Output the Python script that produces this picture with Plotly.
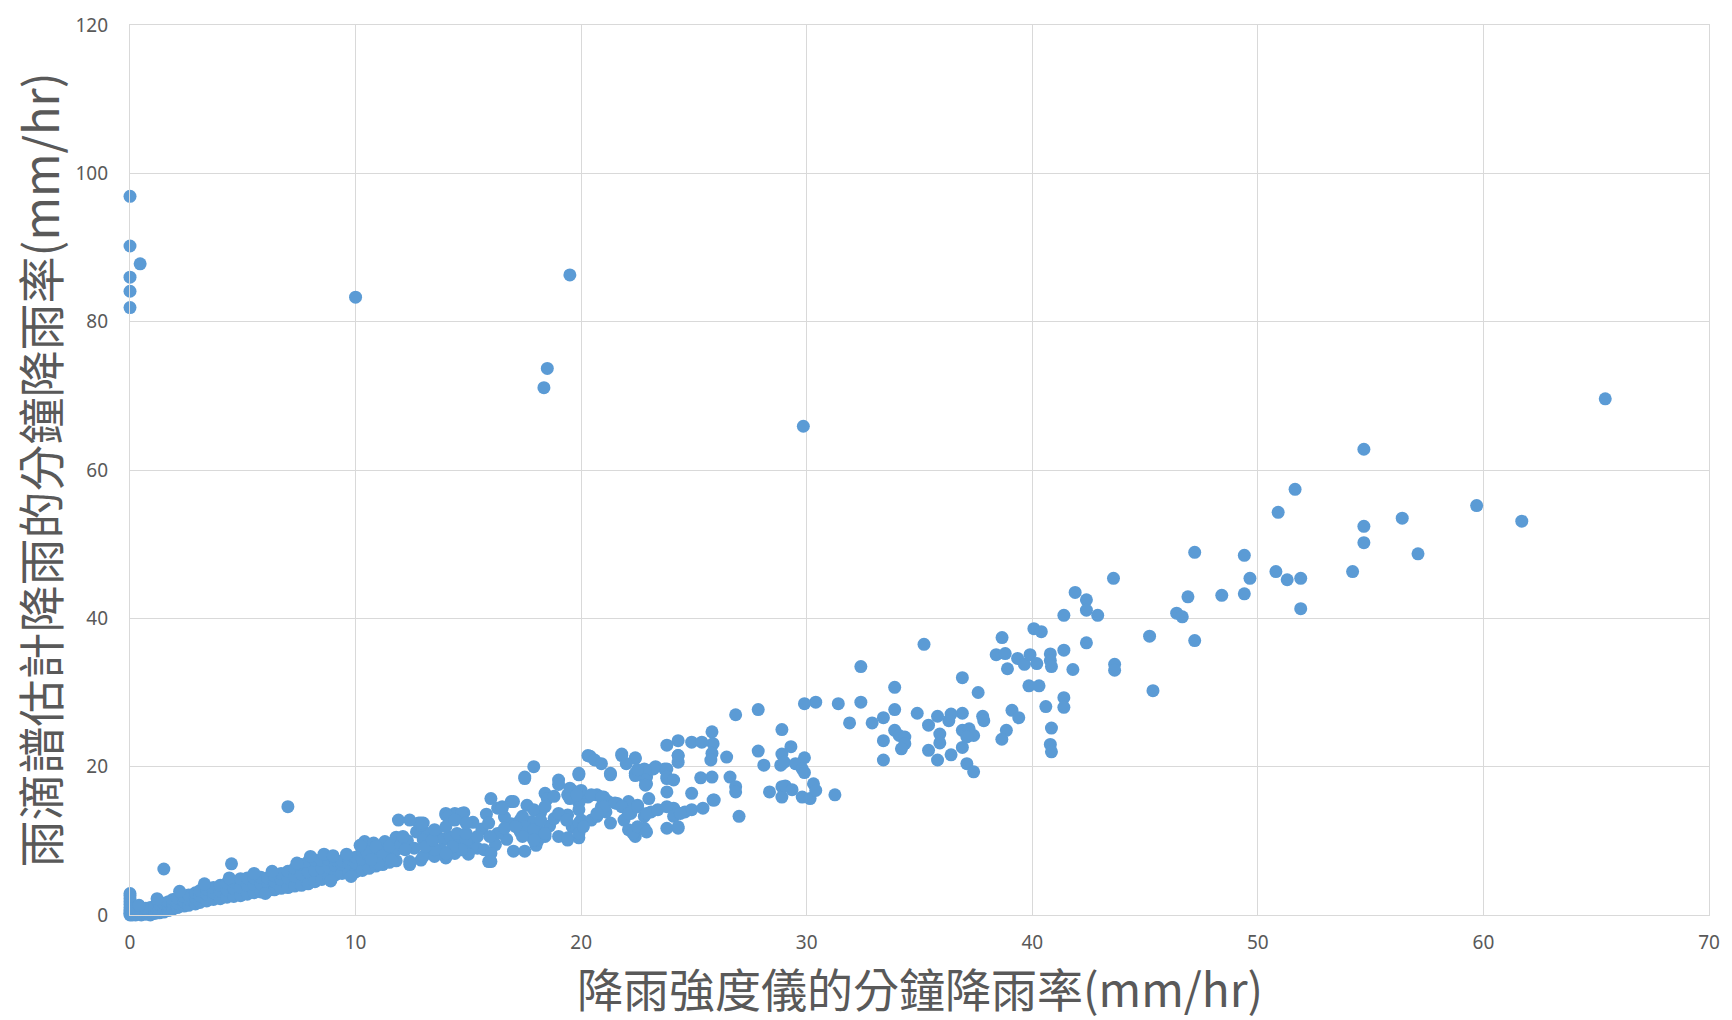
import plotly.graph_objects as go

# ---- data ----
x_ticks = [0, 10, 20, 30, 40, 50, 60, 70]
y_ticks = [0, 20, 40, 60, 80, 100, 120]

x_title = "降雨強度儀的分鐘降雨率(mm/hr)"
y_title = "雨滴譜估計降雨的分鐘降雨率(mm/hr)"

outliers = [
    (0, 96.9), (0, 90.2), (0, 86.0), (0, 84.1), (0, 81.9), (0.45, 87.8),
    (10.0, 83.3), (19.5, 86.3), (18.5, 73.7), (18.35, 71.1), (29.85, 65.9),
    (65.4, 69.6), (54.7, 62.8), (1.5, 6.2), (4.5, 6.9), (7.0, 14.6),
]

band_low = [
    (0, 0), (0, 0.2), (0, 0.4), (0, 0.7), (0, 1.0), (0, 1.4), (0, 1.8), (0, 2.2), (0, 2.6), (0, 2.9),
    (0.1, 0), (0.1, 0.3), (0.25, 0), (0.25, 0.5), (0.25, 0.9), (0.5, 0), (0.5, 0.2), (0.5, 0.6),
    (0.7, 0.1), (0.7, 0.5), (0.7, 0.9), (0.9, 0), (0.9, 0.4), (0.9, 1.0), (1.1, 0.2), (1.1, 0.6), (1.1, 1.2),
    (1.3, 0.3), (1.3, 0.8), (1.3, 1.4), (1.5, 0.4), (1.5, 1.0), (1.5, 1.6), (1.7, 0.6), (1.7, 1.3), (1.7, 1.8),
    (1.9, 0.8), (1.9, 1.5), (1.9, 2.1), (2.1, 1.0), (2.1, 1.6), (2.1, 2.3), (2.4, 1.2), (2.4, 1.8), (2.4, 2.5),
    (2.6, 1.3), (2.6, 2.1), (2.6, 2.7), (2.9, 1.5), (2.9, 2.3), (2.9, 3.0), (3.1, 1.7), (3.1, 2.6), (3.1, 3.3),
    (3.4, 1.9), (3.4, 2.8), (3.4, 3.5), (3.7, 2.1), (3.7, 3.0), (3.7, 3.7), (4.0, 2.2), (4.0, 3.2), (4.0, 4.0),
    (4.3, 2.4), (4.3, 3.4), (4.3, 4.3), (4.6, 2.5), (4.6, 3.6), (4.6, 4.5), (4.9, 2.6), (4.9, 3.8), (4.9, 4.9),
    (5.2, 2.8), (5.2, 4.0), (5.2, 5.0), (5.5, 3.0), (5.5, 4.1), (5.5, 5.0), (5.8, 3.1), (5.8, 4.2), (5.8, 5.1),
    (6.1, 3.3), (6.1, 4.3), (6.1, 5.0), (6.4, 3.4), (6.4, 4.5), (6.4, 5.3), (6.7, 3.6), (6.7, 4.8), (6.7, 5.6),
    (7.0, 3.7), (7.0, 5.0), (7.0, 5.9), (7.3, 3.9), (7.3, 5.2), (7.3, 6.3), (7.6, 4.0), (7.6, 5.5), (7.6, 6.8),
    (7.9, 4.2), (7.9, 5.8), (7.9, 7.2), (8.2, 4.5), (8.2, 6.0), (8.2, 7.4), (8.5, 4.8), (8.5, 6.3), (8.5, 7.4),
    (8.8, 5.1), (8.8, 6.5), (8.8, 7.5), (9.1, 5.4), (9.1, 6.7), (9.1, 7.4), (9.4, 5.6), (9.4, 6.8), (9.4, 7.3),
    (9.7, 5.7), (9.7, 7.0), (9.7, 7.6), (10.0, 5.8), (10.0, 7.0), (10.0, 7.8), (10.3, 6.0), (10.3, 7.5), (10.3, 8.6),
    (10.6, 6.3), (10.6, 7.8), (10.6, 9.3), (10.9, 6.6), (10.9, 8.0), (10.9, 9.0), (11.2, 6.8), (11.2, 8.3), (11.2, 9.4),
    (11.5, 7.1), (11.5, 8.5), (11.5, 9.6), (11.8, 7.3), (11.8, 8.8), (11.8, 10.2),
    (10.4, 9.9), (10.8, 9.7), (11.3, 9.9), (10.5, 8.5), (10.9, 9.2), (11.2, 8.0), (11.5, 9.3), (11.8, 10.5),
    (11.6, 7.4), (11.0, 6.9), (10.7, 7.5),
    (3.3, 4.2), (4.4, 5.0), (5.5, 5.6), (6.3, 5.9), (7.4, 7.0), (8.0, 7.9), (8.6, 8.2), (9.0, 8.0),
    (9.6, 8.2), (10.2, 9.4), (2.2, 3.2), (1.2, 2.2), (0.4, 1.3), (6.0, 2.9), (8.9, 4.6), (9.8, 5.2),
]

band_mid = [
    (12.0, 9.5), (12.3, 10.0), (12.6, 9.0), (12.7, 11.2), (13.2, 11.0), (13.2, 9.0), (13.6, 10.8), (13.9, 10.2),
    (14.2, 10.5), (14.6, 9.8), (15.1, 9.3), (15.4, 9.0), (15.6, 11.6), (15.2, 12.5), (15.7, 8.8), (15.0, 8.2),
    (16.2, 9.5), (16.7, 10.2), (16.9, 12.3), (17.3, 11.2), (18.0, 9.4), (18.6, 12.0), (18.8, 13.0), (18.2, 13.8),
    (16.6, 13.2), (17.6, 14.8), (15.8, 13.6),
    (12.8, 12.4), (13.0, 12.4), (14.0, 13.7), (14.8, 13.8), (16.3, 14.4), (12.9, 7.4), (15.9, 7.2),
    (12.2, 8.8), (12.4, 6.8), (12.9, 12.1), (13.0, 10.1), (13.4, 9.7), (13.8, 8.8), (14.0, 13.5), (14.4, 13.7),
    (14.5, 11.0), (14.9, 10.1), (14.4, 8.3), (14.0, 7.7), (13.0, 7.9), (13.5, 7.9), (16.3, 11.0), (16.6, 11.7),
    (16.5, 14.6), (16.9, 15.3), (17.3, 12.8), (17.8, 12.6), (18.1, 11.5), (17.8, 10.6), (18.4, 10.6), (18.1, 10.1),
    (17.5, 18.6), (17.9, 20.0), (19.0, 18.2), (19.6, 16.8), (19.4, 16.2), (19.9, 16.4), (20.3, 15.9), (19.9, 15.1),
    (19.9, 19.1), (19.4, 13.5), (19.9, 14.2), (20.0, 12.8), (19.6, 11.9), (19.4, 10.1), (19.9, 10.4), (19.8, 11.7),
    (20.3, 21.5), (21.3, 19.1), (20.45, 12.8), (20.7, 13.3), (21.1, 13.9), (20.9, 14.6), (21.2, 15.3), (20.7, 16.2),
    (21.0, 15.9), (21.8, 21.5), (22.4, 21.1), (22.4, 19.1), (22.8, 19.7), (22.9, 18.6), (22.9, 17.7), (23.3, 20.0),
    (23.7, 19.7), (23.8, 18.4), (23.8, 16.6), (24.3, 21.5), (24.3, 20.6), (21.6, 15.05), (22.1, 15.3), (22.5, 14.8),
    (22.2, 13.7), (21.9, 12.8), (22.1, 11.5), (22.4, 10.6), (22.8, 11.7), (23.0, 15.7), (23.1, 13.9), (22.8, 13.3),
    (24.3, 11.7), (24.1, 14.4), (24.6, 13.9), (24.9, 16.4), (24.9, 14.2),
    (26.85, 27.0), (27.85, 27.7), (28.9, 25.0), (27.85, 22.1), (29.3, 22.7), (28.9, 21.7), (28.85, 20.2),
    (29.0, 20.6), (29.9, 21.2), (29.5, 20.4), (29.8, 19.7), (29.9, 19.2), (28.1, 20.2), (28.35, 16.6), (28.9, 17.3),
    (28.9, 15.9), (29.05, 17.4), (29.35, 16.9), (29.8, 15.9), (30.15, 15.7), (30.3, 17.7), (30.4, 16.8),
    (31.25, 16.2), (27.0, 13.3), (26.45, 21.3), (26.6, 18.6), (26.85, 17.3), (26.85, 16.6), (25.8, 18.6),
    (25.85, 15.5), (25.3, 18.5), (25.8, 24.7), (25.85, 23.1), (25.8, 21.8), (25.75, 20.9), (24.9, 23.3),
    (25.35, 23.3), (24.3, 23.5), (23.8, 22.9), (24.3, 21.5), (23.8, 19.7), (23.8, 18.6), (24.1, 18.2), (23.2, 19.7),
    (22.85, 19.5), (22.85, 18.2), (22.85, 17.5), (22.4, 21.2), (22.0, 20.4), (22.4, 18.8), (22.5, 19.6),
    (21.8, 21.7), (21.3, 18.9), (20.4, 21.4), (20.6, 20.9), (20.9, 20.4), (19.9, 18.9), (19.0, 17.6), (19.5, 17.1),
    (20.0, 16.8), (20.45, 16.2), (20.9, 15.9), (21.0, 14.6), (20.7, 13.7), (19.5, 15.7), (19.8, 16.2), (21.5, 15.1),
    (21.8, 14.6), (22.1, 13.7), (21.3, 12.4), (22.3, 11.0), (22.5, 11.9), (22.9, 11.2), (22.5, 14.6), (22.9, 13.7),
    (23.4, 14.2), (23.8, 14.6), (24.1, 13.3), (24.4, 13.7), (25.4, 14.4), (25.9, 15.5), (23.8, 11.7),
    (24.3, 11.9), (19.0, 13.7), (19.35, 12.8), (19.9, 12.4), (19.0, 10.6), (19.4, 10.4), (19.9, 11.0), (20.1, 11.9),
    (18.4, 16.4), (18.5, 15.7), (18.8, 16.0), (17.9, 14.2), (18.4, 14.6), (17.5, 18.4), (17.0, 15.3), (16.5, 14.4),
    (16.0, 15.7), (17.4, 13.3), (17.5, 11.9), (17.9, 11.5), (18.2, 12.8), (18.4, 11.0), (17.9, 10.1), (17.4, 10.6),
    (17.1, 11.9), (17.0, 8.6), (17.5, 8.6), (15.9, 12.4), (15.95, 10.6), (16.0, 8.3), (16.0, 7.2), (15.4, 10.6),
    (14.9, 11.0), (14.7, 13.7), (14.1, 13.3), (14.0, 11.9), (14.7, 8.8), (14.4, 12.8), (14.9, 12.4), (14.3, 9.2),
    (14.0, 8.3), (13.5, 8.8), (13.1, 9.2), (12.9, 12.4), (12.4, 12.8), (11.9, 12.8), (12.1, 10.6), (12.4, 7.2),
    (13.4, 10.1), (13.5, 11.5),
]

band_high = [
    (51.65, 57.4), (50.9, 54.3), (59.7, 55.2), (61.7, 53.1), (56.4, 53.5), (54.7, 52.4), (54.7, 50.2), (57.1, 48.7),
    (54.2, 46.3), (50.8, 46.3), (51.3, 45.2), (51.9, 45.4), (49.65, 45.4), (49.4, 48.5), (47.2, 48.9), (49.4, 43.3),
    (48.4, 43.1), (46.9, 42.9), (46.4, 40.7), (46.65, 40.2), (51.9, 41.3), (45.2, 37.6), (47.2, 37.0), (45.35, 30.25),
    (43.6, 45.4), (43.65, 33.8), (43.65, 33.0), (41.9, 43.5), (42.4, 42.5), (42.4, 41.1), (42.9, 40.4), (41.4, 40.4),
    (42.4, 36.7), (41.8, 33.1), (41.4, 35.7), (40.8, 35.2), (40.8, 34.3), (40.85, 33.5), (40.07, 38.6), (40.4, 38.2),
    (38.66, 37.4), (38.4, 35.1), (38.8, 35.25), (39.35, 34.6), (39.65, 33.8), (39.9, 35.1), (40.2, 33.9), (38.9, 33.2),
    (39.85, 30.9), (40.3, 30.9), (41.4, 29.3), (41.4, 28.0), (40.6, 28.1), (40.85, 25.2), (40.8, 23.0), (40.85, 22.0),
    (39.1, 27.6), (39.4, 26.6), (38.85, 24.9), (38.65, 23.7), (37.6, 30.0), (36.9, 32.0), (37.8, 26.8), (37.85, 26.2),
    (36.9, 27.2), (36.9, 22.6), (37.1, 20.4), (37.4, 19.3), (36.9, 24.9), (37.2, 25.1), (37.4, 24.2), (37.1, 24.0),
    (36.4, 27.1), (36.3, 26.2), (35.8, 26.8), (35.4, 25.6), (35.9, 24.4), (35.9, 23.2), (35.8, 20.9), (36.4, 21.6),
    (35.4, 22.2), (34.9, 27.2), (33.9, 30.7), (33.9, 27.7), (33.4, 26.6), (32.9, 25.9), (31.9, 25.9), (33.9, 24.9),
    (34.1, 24.2), (34.35, 24.0), (34.35, 23.1), (34.2, 22.4), (33.4, 23.5), (33.4, 20.9), (35.2, 36.5), (32.4, 33.5),
    (32.4, 28.7), (31.4, 28.5), (30.4, 28.7), (29.9, 28.5),
]

# ---- build x / y series from the named lists ----
all_points = outliers + band_low + band_mid + band_high
xs = [p[0] for p in all_points]
ys = [p[1] for p in all_points]

TICK_COLOR = "#595959"
GRID = "#d9d9d9"
DOT = "#5B9BD5"

fig = go.Figure(
    go.Scatter(
        x=xs, y=ys, mode="markers",
        marker=dict(size=13, color=DOT, line=dict(width=0)),
        cliponaxis=False, hoverinfo="x+y",
    )
)

axis_common = dict(
    showgrid=True, gridcolor=GRID, gridwidth=1.3,
    showline=True, linecolor=GRID, linewidth=1.3, mirror=True,
    zeroline=False, ticks="",
    tickfont=dict(family="Noto Sans, Open Sans, sans-serif", size=19, color=TICK_COLOR),
)

fig.update_xaxes(range=[0, 70], tickvals=x_ticks, ticklabelstandoff=10, **axis_common)
fig.update_yaxes(range=[0, 120], tickvals=y_ticks, ticklabelstandoff=17, **axis_common)

fig.update_layout(
    width=1732, height=1020,
    margin=dict(l=130, r=16, t=21, b=105),
    paper_bgcolor="white", plot_bgcolor="white",
    showlegend=False,
    annotations=[
        dict(text=x_title, xref="paper", yref="paper", x=0.5, y=-0.081,
             xanchor="center", yanchor="middle", showarrow=False,
             font=dict(family="Noto Sans CJK TC", size=46, color=TICK_COLOR)),
        dict(text=y_title, xref="paper", yref="paper", x=-0.058, y=0.5,
             xanchor="center", yanchor="middle", showarrow=False, textangle=-90,
             font=dict(family="Noto Sans CJK TC", size=47, color=TICK_COLOR)),
    ],
)

fig.write_html(
    "out.html",
    config={"displayModeBar": False},
    post_script="document.body.style.margin='0';document.body.style.overflow='hidden';",
)
